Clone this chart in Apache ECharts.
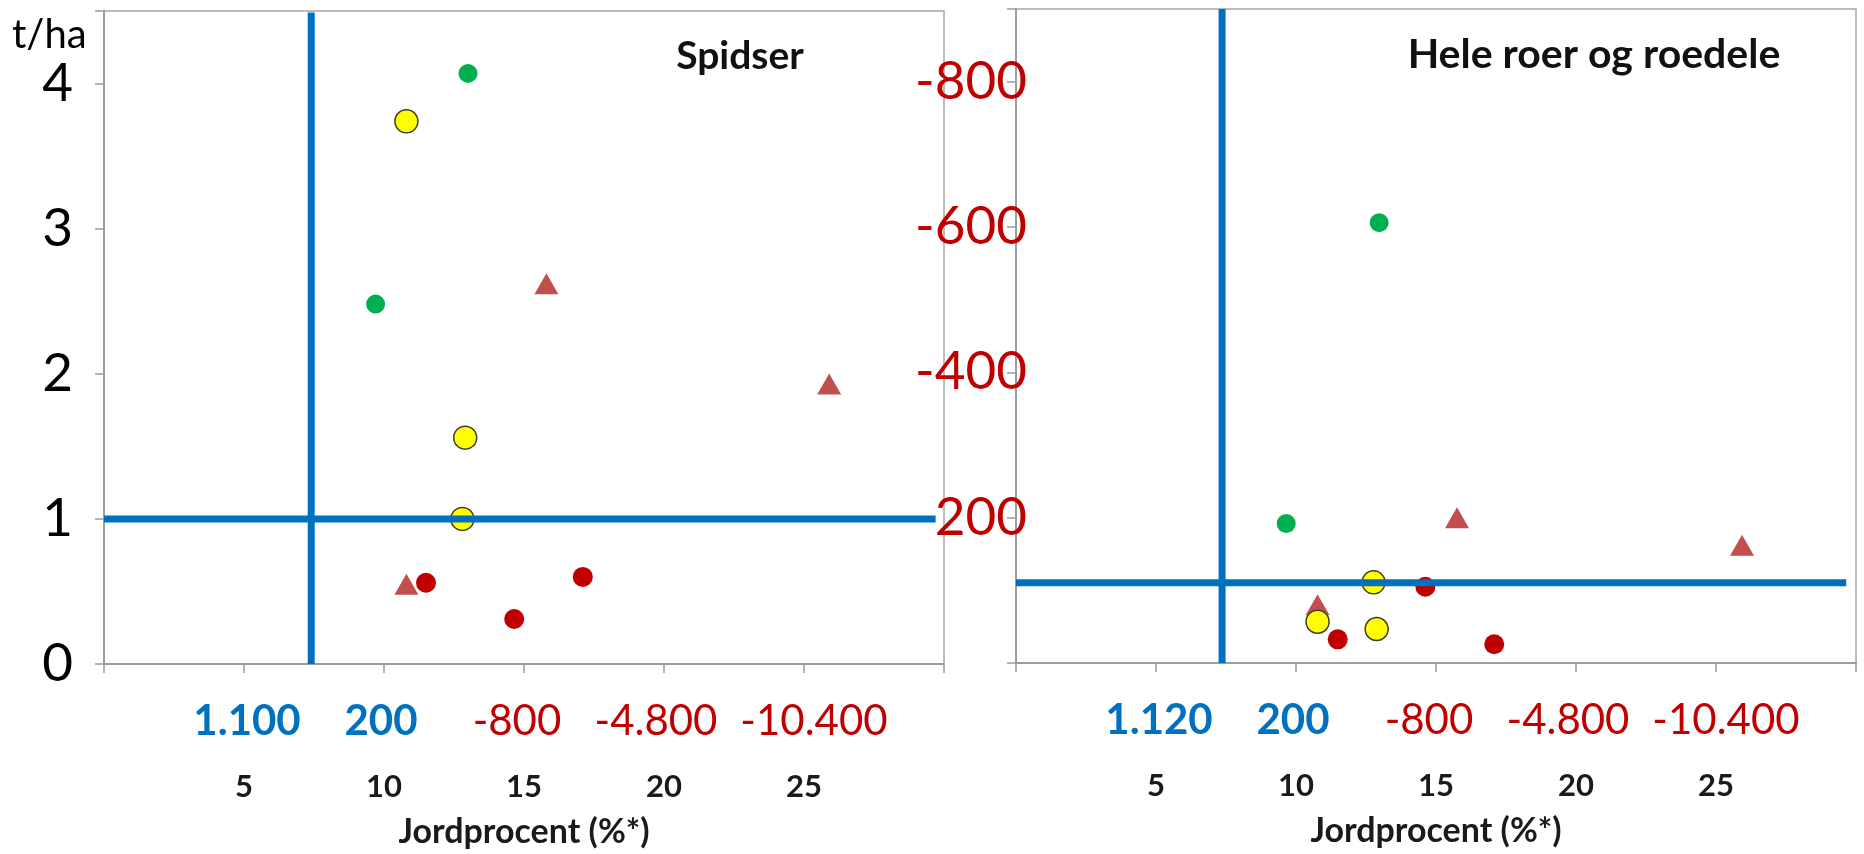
<!DOCTYPE html>
<html><head><meta charset="utf-8">
<script src="https://cdn.jsdelivr.net/npm/echarts@6/dist/echarts.min.js"></script>
<style>html,body{margin:0;padding:0;background:#fff}#c{width:1864px;height:854px}</style>
</head><body><div id="c"></div>
<script>
// ---- data ----
const leftTopLabels = ['1.100', '200', '-800', '-4.800', '-10.400'];
const rightTopLabels = ['1.120', '200', '-800', '-4.800', '-10.400'];
const topLabelKinds = ['bl', 'bl', 'rd', 'rd', 'rd'];
const leftYLabels = ['0', '1', '2', '3', '4'];
const rightYLabels = ['', '-200', '-400', '-600', '-800'];
const xAxisName = 'Jordprocent (%*)';
const leftTitle = 'Spidser';
const rightTitle = 'Hele roer og roedele';
const yUnit = 't/ha';

// Left panel: Spidser  [jordprocent, t/ha]
const leftGreen = [[13.0, 4.07], [9.7, 2.48]];
const leftYellow = [[10.8, 3.74], [12.9, 1.56], [12.8, 1.0]];
const leftTriangle = [[15.8, 2.62], [25.9, 1.93], [10.8, 0.55]];
const leftRed = [[11.5, 0.56], [14.65, 0.31], [17.1, 0.60]];
const leftVLine = [[7.4, 0], [7.4, 4.49]];
const leftHLine = [[0, 1.0], [29.7, 1.0]];

// Right panel: Hele roer og roedele
const rightGreen = [[12.97, 3.03], [9.65, 0.96]];
const rightYellow = [[12.77, 0.555], [10.77, 0.284], [12.88, 0.234]];
const rightTriangle = [[15.75, 1.0], [25.93, 0.81], [10.77, 0.40]];
const rightRed = [[14.62, 0.525], [11.49, 0.163], [17.08, 0.129]];
const rightVLine = [[7.36, 0], [7.36, 4.5]];
const rightHLine = [[0, 0.553], [29.65, 0.553]];

// ---- styles ----
const FONT = 'Lato, "Open Sans", sans-serif';
const AX = '#9c9c9c';
const BLUE = '#0070c0';
const RED = '#c00000';
const topLabelShift = [3, -3, -7, -8, 10]; // horizontal nudge of the overlay labels (px)

function buildRich() {
  const rich = {
    b: { color: '#1a1a1a', fontWeight: 'bold', fontSize: 31, fontFamily: FONT, lineHeight: 76 }
  };
  for (let i = 0; i < 5; i++) {
    const d = topLabelShift[i];
    const blue = topLabelKinds[i] === 'bl';
    rich['t' + i] = {
      color: blue ? BLUE : RED, fontWeight: blue ? 'bold' : 'normal', fontSize: 42, fontFamily: FONT,
      lineHeight: 56, padding: d >= 0 ? [0, 0, 0, 2 * d] : [0, -2 * d, 0, 0]
    };
  }
  return rich;
}

function xAxisCfg(gridIndex, topLabels) {
  return {
    type: 'value', gridIndex, min: 0, max: 30, interval: 5,
    axisLine: { show: true, onZero: false, lineStyle: { color: AX, width: 2 } },
    axisTick: { show: true, length: 9, lineStyle: { color: AX, width: 1.5 } },
    splitLine: { show: false },
    axisLabel: {
      margin: 29,
      formatter: function (v) {
        const i = Math.round(v / 5) - 1;
        if (i < 0 || i > 4 || Math.abs(v / 5 - Math.round(v / 5)) > 1e-9) return '';
        return '{t' + i + '|' + topLabels[i] + '}\n{b|' + v + '}';
      },
      rich: buildRich()
    },
    name: xAxisName, nameLocation: 'middle', nameGap: 151,
    nameTextStyle: { fontFamily: FONT, fontWeight: 'bold', fontSize: 34, color: '#1a1a1a' }
  };
}
function yAxisCfg(gridIndex, labels, color, margin) {
  return {
    type: 'value', gridIndex, min: 0, max: 4.5, interval: 1,
    axisLine: { show: true, onZero: false, lineStyle: { color: AX, width: 2 } },
    axisTick: { show: true, length: 9, lineStyle: { color: AX, width: 1.5 } },
    splitLine: { show: false },
    axisLabel: {
      margin, color, fontFamily: FONT, fontSize: 53,
      formatter: function (v) { const s = labels[v]; return s === undefined ? '' : s; }
    }
  };
}
function scatter(idx, data, style) {
  return Object.assign({ type: 'scatter', xAxisIndex: idx, yAxisIndex: idx, data, silent: true }, style);
}
function refLine(idx, data) {
  return { type: 'line', xAxisIndex: idx, yAxisIndex: idx, data, showSymbol: false, symbol: 'none',
    lineStyle: { color: BLUE, width: 7, opacity: 1 }, z: 5, silent: true };
}
const tri = { symbol: 'triangle', symbolSize: [24, 21], itemStyle: { color: '#c0504d', opacity: 1 }, z: 2 };
const grn = { symbol: 'circle', symbolSize: 19, itemStyle: { color: '#00b050', opacity: 1 }, z: 3 };
const red = { symbol: 'circle', symbolSize: 20, itemStyle: { color: RED, opacity: 1 }, z: 3 };
const yel = { symbol: 'circle', symbolSize: 23, itemStyle: { color: '#ffff00', borderColor: '#3d3d2a', borderWidth: 1.5, opacity: 1 }, z: 4 };

const option = {
  animation: false,
  backgroundColor: '#ffffff',
  grid: [
    { left: 104, top: 11, width: 840, height: 653, show: true, borderColor: '#a6a6a6', borderWidth: 1.5, containLabel: false, outerBoundsMode: 'none' },
    { left: 1016, top: 9, width: 840, height: 654, show: true, borderColor: '#a6a6a6', borderWidth: 1.5, containLabel: false, outerBoundsMode: 'none' }
  ],
  xAxis: [xAxisCfg(0, leftTopLabels), xAxisCfg(1, rightTopLabels)],
  yAxis: [yAxisCfg(0, leftYLabels, '#000000', 31), yAxisCfg(1, rightYLabels, RED, -11)],
  series: [
    scatter(0, leftTriangle, tri), scatter(0, leftGreen, grn), scatter(0, leftRed, red), scatter(0, leftYellow, yel),
    refLine(0, leftVLine), refLine(0, leftHLine),
    scatter(1, rightTriangle, tri), scatter(1, rightGreen, grn), scatter(1, rightRed, red), scatter(1, rightYellow, yel),
    refLine(1, rightVLine), refLine(1, rightHLine)
  ],
  graphic: [
    { type: 'text', x: 12, y: 35, style: { text: yUnit, fontFamily: FONT, fontSize: 40, fill: '#000', textAlign: 'left', textVerticalAlign: 'middle' } },
    { type: 'text', x: 740, y: 56, style: { text: leftTitle, fontFamily: FONT, fontWeight: 'bold', fontSize: 39, fill: '#111', textAlign: 'center', textVerticalAlign: 'middle' } },
    { type: 'text', x: 1594, y: 55, style: { text: rightTitle, fontFamily: FONT, fontWeight: 'bold', fontSize: 41, fill: '#111', textAlign: 'center', textVerticalAlign: 'middle' } }
  ]
};
const chart = echarts.init(document.getElementById('c'), null, { renderer: 'canvas', width: 1864, height: 854 });
chart.setOption(option);
</script>
</body></html>
